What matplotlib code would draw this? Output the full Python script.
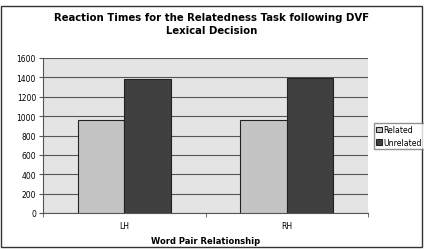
import matplotlib.pyplot as plt
import numpy as np
from matplotlib.patches import Rectangle

# Datuak
kategoriak = ['LH', 'RH']
related = [960, 955]
unrelated = [1385, 1390]
y_ticks = [0, 200, 400, 600, 800, 1000, 1200, 1400, 1600]

fig = plt.figure(figsize=(4.24, 2.51), dpi=100)
fig.patch.set_facecolor('white')

# Kanpoko markoa
fig.add_artist(Rectangle((1/424, 3/251), 421/424, 241/251, transform=fig.transFigure,
                         fill=False, edgecolor='#333333', linewidth=1.0))

ax = fig.add_axes([43/424, 1 - 214/251, 325/424, 155/251])
ax.set_facecolor('#e4e4e4')

x = np.arange(len(kategoriak))
w = 0.286
ax.bar(x - w/2, related, w, color='#c4c4c4', edgecolor='#222222', linewidth=0.8,
       label='Related', zorder=3)
ax.bar(x + w/2, unrelated, w, color='#404040', edgecolor='#222222', linewidth=0.8,
       label='Unrelated', zorder=3)

ax.set_xlim(-0.5, 1.5)
ax.set_ylim(0, 1600)
ax.set_yticks(y_ticks)
ax.set_xticks(x)
ax.set_xticklabels(kategoriak)
ax.set_xticks([-0.5, 0.5, 1.5], minor=True)
ax.tick_params(axis='x', which='major', length=0, labelsize=5.5, pad=6)
ax.tick_params(axis='x', which='minor', length=3, color='#555555')
ax.tick_params(axis='y', length=3, labelsize=5.5, color='#555555', pad=2)
ax.grid(axis='y', color='#555555', linewidth=0.8, zorder=1)
for s in ['top', 'right']:
    ax.spines[s].set_visible(False)
for s in ['left', 'bottom']:
    ax.spines[s].set_color('#555555')

ax.set_xlabel('Word Pair Relationship', fontsize=6, fontweight='bold', labelpad=4)
fig.text(0.5, 1 - 24.5/251, 'Reaction Times for the Relatedness Task following DVF\nLexical Decision',
         ha='center', va='center', fontsize=7.3, fontweight='bold', linespacing=1.45)

fig.legend(loc='upper left', bbox_to_anchor=(374/424, 1 - 124/251), fontsize=5.6,
           frameon=True, fancybox=False, edgecolor='#777777', handlelength=0.7,
           handleheight=0.7, handletextpad=0.25, borderpad=0.3, labelspacing=0.45,
           borderaxespad=0)

plt.savefig('out.png', dpi=100)
